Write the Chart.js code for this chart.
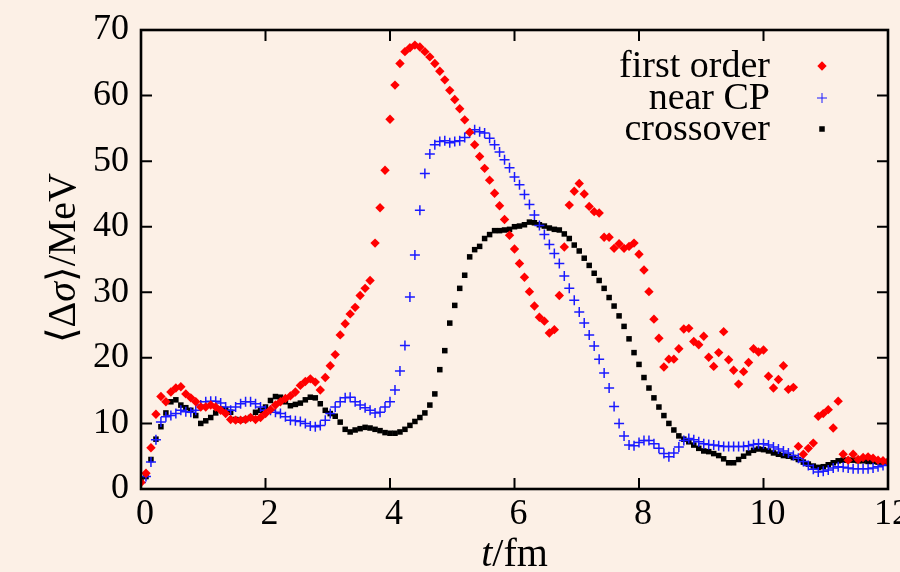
<!DOCTYPE html>
<html><head><meta charset="utf-8">
<script src="https://cdn.jsdelivr.net/npm/chart.js@4.4.0/dist/chart.umd.min.js"></script>
<style>
html,body{margin:0;padding:0;background:#fcf0e6;overflow:hidden}
#wrap{width:900px;height:572px;position:relative}
canvas{display:block}
</style></head><body>
<div id="wrap"><canvas id="c" width="900" height="572"></canvas></div>
<script>
// time grid (fm)
const times = [0,0.08,0.16,0.24,0.32,0.4,0.48,0.56,0.64,0.72,0.8,0.88,0.96,1.04,1.12,1.2,1.28,1.36,1.44,1.52,1.6,1.68,1.76,1.84,1.92,2,2.08,2.16,2.24,2.32,2.4,2.48,2.56,2.64,2.72,2.8,2.88,2.96,3.04,3.12,3.2,3.28,3.36,3.44,3.52,3.6,3.68,3.76,3.84,3.92,4,4.08,4.16,4.24,4.32,4.4,4.48,4.56,4.64,4.72,4.8,4.88,4.96,5.04,5.12,5.2,5.28,5.36,5.44,5.52,5.6,5.68,5.76,5.84,5.92,6,6.08,6.16,6.24,6.32,6.4,6.48,6.56,6.64,6.72,6.8,6.88,6.96,7.04,7.12,7.2,7.28,7.36,7.44,7.52,7.6,7.68,7.76,7.84,7.92,8,8.08,8.16,8.24,8.32,8.4,8.48,8.56,8.64,8.72,8.8,8.88,8.96,9.04,9.12,9.2,9.28,9.36,9.44,9.52,9.6,9.68,9.76,9.84,9.92,10,10.08,10.16,10.24,10.32,10.4,10.48,10.56,10.64,10.72,10.8,10.88,10.96,11.04,11.12,11.2,11.28,11.36,11.44,11.52,11.6,11.68,11.76,11.84,11.92,12];

const firstOrder = [1.0,2.4,6.3,11.4,14.1,13.3,14.8,15.4,15.6,14.5,13.9,13.3,12.5,12.5,12.8,12.5,12.0,11.5,10.6,10.5,10.5,10.6,10.9,10.6,10.9,11.5,12.1,12.8,13.3,13.8,14.2,14.8,15.8,16.4,16.8,16.3,15.1,17.0,18.8,20.5,23.5,25.2,26.7,27.7,29.5,30.6,31.8,37.5,42.9,48.6,56.4,61.6,64.9,66.7,67.3,67.7,67.4,66.7,65.9,64.9,63.7,62.4,60.8,59.4,58.0,56.3,54.4,52.5,50.7,48.9,47.1,45.1,43.2,41.1,38.7,36.6,34.4,32.3,30.1,27.9,26.2,25.6,23.8,24.3,29.5,36.9,43.3,45.4,46.6,45.0,43.1,42.3,42.1,38.4,38.4,36.7,37.4,36.7,37.0,37.5,35.8,33.4,30.1,25.9,23.0,18.6,19.8,19.8,21.4,24.4,24.5,22.5,22.0,23.3,20.1,18.7,20.8,24.0,19.7,18.1,16.0,17.9,19.3,21.4,20.9,21.2,17.2,15.4,16.7,18.8,15.2,15.5,6.5,5.3,6.2,7.0,11.1,11.5,12.1,9.3,13.4,5.3,4.4,5.3,4.5,4.8,4.9,4.7,4.4,4.3,4.2];

const nearCP = [1.0,1.9,4.1,7.5,10.2,11.0,11.2,11.5,12.0,11.8,11.7,12.0,12.8,13.3,13.4,13.4,13.1,12.5,12.0,12.5,13.0,13.3,13.3,13.0,12.5,12.0,12.0,11.7,11.5,11.0,10.5,10.4,10.3,10.0,9.6,9.5,9.7,10.5,11.5,12.5,13.3,13.9,14.0,13.3,12.8,12.4,12.0,11.6,11.7,12.5,13.3,15.1,18.0,21.9,29.3,35.7,42.5,48.1,51.1,52.5,53.0,53.1,52.8,53.0,53.1,53.6,54.3,54.8,54.5,54.3,53.5,52.5,51.4,50.2,49.0,47.6,46.4,44.9,43.4,41.8,40.2,38.8,37.3,35.9,34.4,32.5,30.6,28.8,27.0,25.3,23.5,21.8,19.8,17.7,15.4,12.6,10.0,8.1,6.7,6.6,7.1,7.4,7.4,6.9,6.2,5.4,4.9,5.5,6.4,7.4,7.7,7.5,7.2,6.9,6.8,6.7,6.6,6.5,6.5,6.5,6.5,6.5,6.6,6.8,6.9,6.9,6.7,6.4,6.1,5.8,5.5,5.1,4.7,4.2,3.6,3.0,2.6,2.7,2.9,3.2,3.4,3.3,3.2,3.1,3.1,3.1,3.1,3.2,3.4,3.6,3.7];

const crossover = [1.5,1.9,4.5,7.6,9.5,11.6,13.3,13.6,12.8,12.4,12.0,11.2,10.0,10.4,10.9,11.6,12.2,12.1,11.7,10.6,10.5,10.6,10.9,11.7,12.0,12.5,13.5,14.1,14.0,13.3,12.7,12.9,13.1,13.6,14.0,13.9,13.0,12.0,11.5,11.1,10.2,9.1,8.7,9.0,9.2,9.4,9.3,9.1,8.9,8.6,8.5,8.5,8.7,9.1,9.7,10.3,10.9,11.6,12.8,14.5,18.2,21.1,25.3,28.0,30.6,32.6,35.4,36.5,37.0,38.2,38.8,39.4,39.4,39.5,39.6,40.0,40.1,40.3,40.7,40.6,40.3,40.1,39.8,39.6,39.5,38.9,38.2,37.2,36.3,35.2,34.1,32.9,31.8,30.6,29.2,27.9,26.4,24.8,22.9,20.8,19.0,17.0,15.4,13.9,12.5,11.2,10.0,9.0,8.1,7.6,7.2,6.7,6.2,5.8,5.7,5.4,5.1,4.6,4.0,4.0,4.5,5.0,5.5,5.9,6.1,6.0,5.8,5.5,5.3,5.1,5.0,4.8,4.5,4.1,3.8,3.5,3.3,3.4,3.7,4.0,4.3,4.4,4.4,4.4,4.3,4.3,4.2,4.2,4.1,4.1,4.0];

const xTicks = [0,2,4,6,8,10,12];
const yTicks = [0,10,20,30,40,50,60,70];
const seriesLabels = ['first order','near CP','crossover'];
const seriesColors = ['#ff0000','#1a1aff','#000000'];

const FONT = '"Liberation Serif", "DejaVu Serif", serif';
const FS = 36;
const FS_LEG = 38;
const FS_TITLE = 40;

function pts(ys){ return ys.map((y,i)=>({x:times[i], y:y})); }

const styles = [
  {pointStyle:'rectRot', radius:4.7, borderWidth:0},
  {pointStyle:'cross', radius:5, borderWidth:1.5},
  {pointStyle:'rect', radius:3.9, borderWidth:0}
];

const frameTicks = {
  id:'frameTicks',
  afterDatasetsDraw(chart){
    const {ctx, chartArea:a, scales} = chart;
    ctx.save();
    ctx.strokeStyle = '#000';
    ctx.lineWidth = 2;
    const L = 11;
    ctx.beginPath();
    xTicks.forEach(v=>{
      const x = scales.x.getPixelForValue(v);
      ctx.moveTo(x, a.bottom); ctx.lineTo(x, a.bottom - L);
      ctx.moveTo(x, a.top); ctx.lineTo(x, a.top + L);
    });
    yTicks.forEach(v=>{
      const y = scales.y.getPixelForValue(v);
      ctx.moveTo(a.left, y); ctx.lineTo(a.left + L, y);
      ctx.moveTo(a.right, y); ctx.lineTo(a.right - L, y);
    });
    ctx.stroke();
    ctx.lineWidth = 2.6;
    ctx.strokeRect(a.left, a.top, a.right - a.left, a.bottom - a.top);
    ctx.restore();
  }
};

const legendTitles = {
  id:'legendTitles',
  afterDraw(chart){
    const {ctx, chartArea:a} = chart;
    ctx.save();
    ctx.fillStyle = '#000';
    ctx.textBaseline = 'alphabetic';
    ctx.font = FS_LEG + 'px ' + FONT;
    ctx.textAlign = 'right';
    const baselines = [77, 109, 140];
    const markerX = 822;
    seriesLabels.forEach((lab,i)=>{
      ctx.fillStyle = '#000';
      ctx.fillText(lab, 770, baselines[i]);
      ctx.fillStyle = seriesColors[i];
      ctx.strokeStyle = seriesColors[i];
      Chart.helpers.drawPoint(ctx, {pointStyle:styles[i].pointStyle, radius:styles[i].radius, borderWidth:styles[i].borderWidth, rotation:0}, markerX, baselines[i]-11);
    });
    // x title: t/fm (t italic)
    ctx.fillStyle = '#000';
    ctx.textAlign = 'left';
    const cx = (a.left + a.right)/2;
    const partsX = [{t:'t', it:true},{t:'/fm', it:false}];
    drawParts(ctx, partsX, cx, 566);
    // y title rotated
    ctx.translate(62, 258);
    ctx.rotate(-Math.PI/2);
    const partsY = [{t:'\u27E8\u0394', it:false},{t:'\u03C3', it:true},{t:'\u27E9/MeV', it:false}];
    drawParts(ctx, partsY, 0, 13);
    ctx.restore();
  }
};
function drawParts(ctx, parts, cx, y){
  let w = 0;
  parts.forEach(p=>{ ctx.font = (p.it?'italic ':'') + FS_TITLE + 'px ' + FONT; p.w = ctx.measureText(p.t).width; w += p.w; });
  let x = cx - w/2;
  parts.forEach(p=>{ ctx.font = (p.it?'italic ':'') + FS_TITLE + 'px ' + FONT; ctx.fillText(p.t, x, y); x += p.w; });
}

new Chart(document.getElementById('c'), {
  type:'scatter',
  data:{
    datasets: seriesLabels.map((lab,i)=>({
      label: lab,
      data: pts([firstOrder, nearCP, crossover][i]),
      pointStyle: styles[i].pointStyle,
      pointRadius: styles[i].radius,
      pointBorderWidth: styles[i].borderWidth,
      backgroundColor: seriesColors[i],
      borderColor: seriesColors[i],
      showLine:false
    }))
  },
  options:{
    responsive:false,
    devicePixelRatio:1,
    animation:false,
    events:[],
    layout:{padding:{top:30, right:12, bottom:0, left:0}},
    plugins:{legend:{display:false}, tooltip:{enabled:false}},
    scales:{
      x:{
        type:'linear', min:0, max:12,
        afterBuildTicks(s){ s.ticks = xTicks.map(v=>({value:v})); },
        grid:{display:false, drawTicks:false},
        border:{display:false},
        ticks:{color:'#000', font:{family:FONT, size:FS}, padding:4, labelOffset:4, maxRotation:0, autoSkip:false},
        afterFit(s){ s.height = 83; s.paddingLeft = 0; s.paddingRight = 0; }
      },
      y:{
        type:'linear', min:0, max:70,
        afterBuildTicks(s){ s.ticks = yTicks.map(v=>({value:v})); },
        grid:{display:false, drawTicks:false},
        border:{display:false},
        ticks:{color:'#000', font:{family:FONT, size:FS}, padding:12, autoSkip:false},
        afterFit(s){ s.width = 141; s.paddingTop = 0; s.paddingBottom = 0; }
      }
    }
  },
  plugins:[frameTicks, legendTitles]
});
</script>
</body></html>
